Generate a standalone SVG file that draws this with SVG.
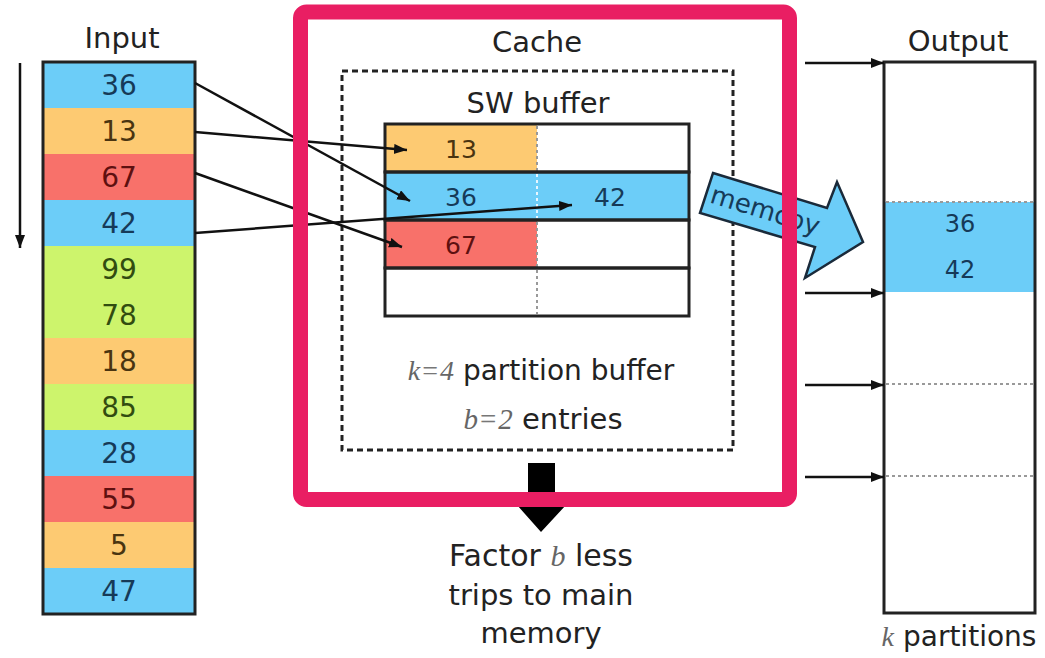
<svg xmlns="http://www.w3.org/2000/svg" width="1045" height="658" viewBox="0 0 1045 658">
<style>
  .t { font-family: "DejaVu Sans", "Liberation Sans", sans-serif; fill: #222; }
  .title { font-size: 29px; text-anchor: middle; }
  .num { font-size: 28px; text-anchor: middle; }
  .bnum { font-size: 25px; text-anchor: middle; }
  .math { font-family: "Liberation Serif", "DejaVu Serif", serif; font-style: italic; fill: #666; }
  .mathop { font-family: "Liberation Serif", "DejaVu Serif", serif; fill: #777; }
  .blue { fill: #6ccdf8; }
  .orange { fill: #fdca72; }
  .red { fill: #f8716a; }
  .green { fill: #cdf46c; }
  .tb { fill: #163a58; }
  .to { fill: #4a3410; }
  .tr { fill: #5e1010; }
  .tg { fill: #324c10; }
  .box { fill: none; stroke: #222; stroke-width: 3; }
  .conn { fill: none; stroke: #111; stroke-width: 2.5; }
  .dots { stroke: #999; stroke-width: 2; stroke-dasharray: 3 3; }
</style>
<defs>
  <marker id="ah" markerUnits="userSpaceOnUse" markerWidth="14" markerHeight="12" refX="13" refY="5" orient="auto">
    <path d="M0,0 L13,5 L0,10 z" fill="#111"/>
  </marker>
</defs>

<rect width="1045" height="658" fill="#fff"/>

<!-- Input -->
<g id="input">
  <text class="t title" x="122" y="48">Input</text>
  <rect class="blue" x="43" y="62" width="152" height="46"/>
  <rect class="orange" x="43" y="108" width="152" height="46"/>
  <rect class="red" x="43" y="154" width="152" height="46"/>
  <rect class="blue" x="43" y="200" width="152" height="46"/>
  <rect class="green" x="43" y="246" width="152" height="46"/>
  <rect class="green" x="43" y="292" width="152" height="46"/>
  <rect class="orange" x="43" y="338" width="152" height="46"/>
  <rect class="green" x="43" y="384" width="152" height="46"/>
  <rect class="blue" x="43" y="430" width="152" height="46"/>
  <rect class="red" x="43" y="476" width="152" height="46"/>
  <rect class="orange" x="43" y="522" width="152" height="46"/>
  <rect class="blue" x="43" y="568" width="152" height="46"/>
  <rect class="box" x="43" y="62" width="152" height="552"/>
  <text class="t num tb" x="119" y="95">36</text>
  <text class="t num to" x="119" y="141">13</text>
  <text class="t num tr" x="119" y="187">67</text>
  <text class="t num tb" x="119" y="233">42</text>
  <text class="t num tg" x="119" y="279">99</text>
  <text class="t num tg" x="119" y="325">78</text>
  <text class="t num to" x="119" y="371">18</text>
  <text class="t num tg" x="119" y="417">85</text>
  <text class="t num tb" x="119" y="463">28</text>
  <text class="t num tr" x="119" y="509">55</text>
  <text class="t num to" x="119" y="555">5</text>
  <text class="t num tb" x="119" y="601">47</text>
</g>

<!-- Cache contents -->
<g id="cache">
  <text class="t title" x="537" y="52">Cache</text>
  <rect x="342" y="71" width="391" height="379" fill="none" stroke="#222" stroke-width="3" stroke-dasharray="6 4"/>
  <text class="t title" x="538" y="113">SW buffer</text>
</g>

<g id="sw-buffer">
  <rect class="orange" x="385" y="124" width="152" height="48"/>
  <rect fill="#fff" x="537" y="124" width="152" height="48"/>
  <rect class="blue" x="385" y="172" width="304" height="48"/>
  <rect class="red" x="385" y="220" width="152" height="48"/>
  <rect fill="#fff" x="537" y="220" width="152" height="48"/>
  <rect fill="#fff" x="385" y="268" width="304" height="48"/>
  <line class="dots" x1="537" y1="126" x2="537" y2="172"/>
  <line x1="537" y1="174" x2="537" y2="218" stroke="#e8f6ff" stroke-width="2" stroke-dasharray="3 3"/>
  <line class="dots" x1="537" y1="222" x2="537" y2="314"/>
  <rect class="box" x="385" y="124" width="304" height="48"/>
  <rect class="box" x="385" y="172" width="304" height="48"/>
  <rect class="box" x="385" y="220" width="304" height="48"/>
  <rect class="box" x="385" y="268" width="304" height="48"/>
  <text class="t bnum to" x="461" y="158">13</text>
  <text class="t bnum tb" x="461" y="206">36</text>
  <text class="t bnum tb" x="610" y="206">42</text>
  <text class="t bnum tr" x="461" y="254">67</text>
</g>

<g id="buffer-label">
  <text class="t" x="541" y="380" font-size="28" text-anchor="middle"><tspan class="math">k</tspan><tspan class="mathop" dx="2">=</tspan><tspan class="math" dx="2">4</tspan> partition buffer</text>
  <text class="t" x="543" y="429" font-size="29" text-anchor="middle"><tspan class="math">b</tspan><tspan class="mathop" dx="2">=</tspan><tspan class="math" dx="2">2</tspan> entries</text>
</g>

<!-- memcpy block arrow -->
<g id="memcpy">
  <polygon points="713,173 827,208 837,182 863,242 805,278 815,247 700,213" fill="#6ccdf8" stroke="#1a2a3a" stroke-width="2.5" stroke-linejoin="miter"/>
  <text class="t tb" x="765" y="219" font-size="26" text-anchor="middle" transform="rotate(17 765 211)">memcpy</text>
</g>

<!-- Down arrow and note -->
<g id="less-trips">
  <polygon points="528,463 555,463 555,505 566,505 541,532 517,505 528,505" fill="#000"/>
  <text class="t" x="541" y="566" font-size="30" text-anchor="middle">Factor <tspan class="math">b</tspan> less</text>
  <text class="t" x="541" y="605" font-size="29" text-anchor="middle">trips to main</text>
  <text class="t" x="541" y="643" font-size="29" text-anchor="middle">memory</text>
</g>

<!-- Output -->
<g id="output">
  <text class="t title" x="958" y="51">Output</text>
  <rect class="blue" x="884" y="202" width="151" height="90"/>
  <line class="dots" x1="886" y1="202" x2="1033" y2="202"/>
  <line class="dots" x1="886" y1="384" x2="1033" y2="384"/>
  <line class="dots" x1="886" y1="476" x2="1033" y2="476"/>
  <rect class="box" x="884" y="62" width="151" height="551"/>
  <text class="t tb" x="960" y="232" font-size="24" text-anchor="middle">36</text>
  <text class="t tb" x="960" y="278" font-size="24" text-anchor="middle">42</text>
  <text class="t" x="959" y="646" font-size="28" text-anchor="middle"><tspan class="math">k</tspan> partitions</text>
</g>

<!-- Connectors -->
<g id="connectors">
  <line class="conn" x1="20" y1="63" x2="20" y2="248" marker-end="url(#ah)"/>
  <line class="conn" x1="195" y1="83" x2="410" y2="201" marker-end="url(#ah)"/>
  <line class="conn" x1="195" y1="132" x2="407" y2="150" marker-end="url(#ah)"/>
  <line class="conn" x1="195" y1="173" x2="402" y2="247" marker-end="url(#ah)"/>
  <line class="conn" x1="195" y1="233" x2="572" y2="205" marker-end="url(#ah)"/>
  <line class="conn" x1="805" y1="63" x2="884" y2="63" marker-end="url(#ah)"/>
  <line class="conn" x1="805" y1="293" x2="884" y2="293" marker-end="url(#ah)"/>
  <line class="conn" x1="805" y1="385" x2="884" y2="385" marker-end="url(#ah)"/>
  <line class="conn" x1="805" y1="477" x2="884" y2="477" marker-end="url(#ah)"/>
</g>

<!-- Cache frame (drawn on top) -->
<g id="cache-frame">
  <rect x="300.5" y="12" width="489" height="487.5" rx="6" fill="none" stroke="#e91e63" stroke-width="15"/>
</g>
</svg>
